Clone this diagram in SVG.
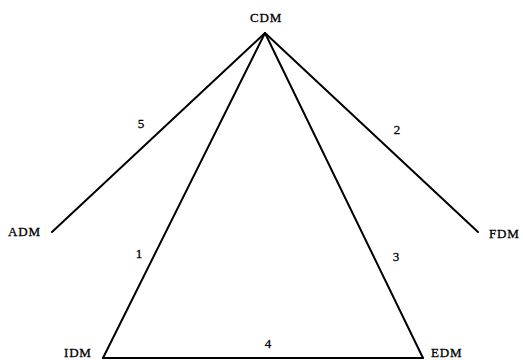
<svg xmlns="http://www.w3.org/2000/svg" width="523" height="360" viewBox="0 0 523 360">
<style>
.e{stroke:#000;stroke-width:2;fill:none;stroke-linecap:round}
.n{font-family:"Liberation Serif","DejaVu Serif",serif;font-size:13px;letter-spacing:0.8px;fill:#000;stroke:#000;stroke-width:0.3}
.l{font-family:"Liberation Serif","DejaVu Serif",serif;font-size:13px;fill:#000;text-anchor:middle;stroke:#000;stroke-width:0.3}
</style>
<rect width="523" height="360" fill="#fff"/>
<g id="connectors">
<line class="e" x1="265" y1="33" x2="52" y2="232"/>
<line class="e" x1="265" y1="33" x2="478" y2="232"/>
<line class="e" x1="265" y1="33" x2="103" y2="358"/>
<line class="e" x1="265" y1="33" x2="423" y2="358"/>
<line class="e" x1="103" y1="358" x2="423" y2="358"/>
<text class="l" x="141" y="128">5</text>
<text class="l" x="397" y="134">2</text>
<text class="l" x="139" y="258">1</text>
<text class="l" x="396" y="261">3</text>
<text class="l" x="268" y="348">4</text>
</g>
<g id="CDM"><text class="n" x="266" y="22" text-anchor="middle">CDM</text></g>
<g id="ADM"><text class="n" x="8" y="236">ADM</text></g>
<g id="FDM"><text class="n" x="489" y="238">FDM</text></g>
<g id="IDM"><text class="n" x="64" y="357">IDM</text></g>
<g id="EDM"><text class="n" x="431" y="357">EDM</text></g>
</svg>
